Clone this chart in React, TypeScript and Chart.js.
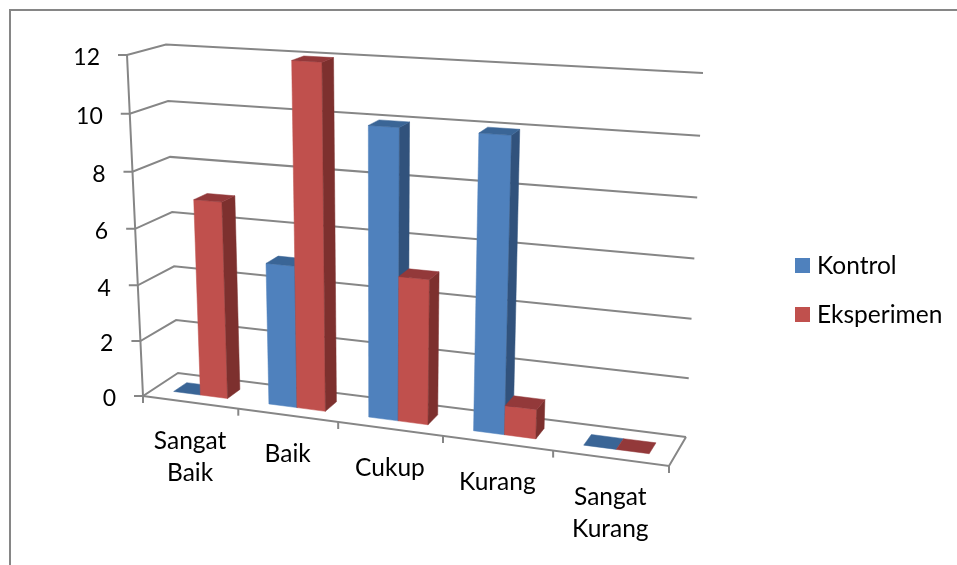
import React, { useEffect, useRef } from "react";
import { Chart, registerables } from "chart.js";

Chart.register(...registerables);

const categories = [["Sangat", "Baik"], ["Baik"], ["Cukup"], ["Kurang"], ["Sangat", "Kurang"]];
const kontrol = [0, 5, 10, 10, 0];
const eksperimen = [7, 12, 5, 1, 0];
const valueMax = 12;
const valueStep = 2;

const FONT = "Lato";
const AXIS = "#868686";
const faces = [
  { front: "#4F81BD", side: "#31527C", top: "#3A6596" },
  { front: "#C0504D", side: "#7D302E", top: "#93393A" },
];

// Corners of the 3-D box [x, y], indexed by u (across), v (height), w (depth)
const C: Record<string, [number, number]> = {
  "000": [143, 396],
  "100": [669, 466],
  "001": [178, 373],
  "101": [686, 437],
  "010": [127, 55],
  "110": [690, 88],
  "011": [166, 44.5],
  "111": [703, 73],
};
const DEPTH_NEAR = 0.31;
const DEPTH_FAR = 0.69;

function persp(t: number, r: number) {
  return t / (t + r * (1 - t));
}
function project(uIn: number, vIn: number, w: number): [number, number] {
  const u = persp(uIn, 1.13);
  const v = persp(vIn, 1.04);
  const out: [number, number] = [0, 0];
  for (const a of [0, 1]) for (const b of [0, 1]) for (const c of [0, 1]) {
    const k = (a ? u : 1 - u) * (b ? v : 1 - v) * (c ? w : 1 - w);
    const p = C[`${a}${b}${c}`];
    out[0] += k * p[0];
    out[1] += k * p[1];
  }
  return out;
}

function poly(ctx: CanvasRenderingContext2D, pts: [number, number][], fill: string) {
  ctx.beginPath();
  pts.forEach((p, i) => (i ? ctx.lineTo(p[0], p[1]) : ctx.moveTo(p[0], p[1])));
  ctx.closePath();
  ctx.fillStyle = fill;
  ctx.fill();
  ctx.strokeStyle = fill;
  ctx.lineWidth = 0.5;
  ctx.stroke();
}
function line(ctx: CanvasRenderingContext2D, pts: [number, number][]) {
  ctx.beginPath();
  pts.forEach((p, i) => (i ? ctx.lineTo(p[0], p[1]) : ctx.moveTo(p[0], p[1])));
  ctx.strokeStyle = AXIS;
  ctx.lineWidth = 2;
  ctx.stroke();
}

const perspectivePlugin = {
  id: "perspective3d",
  beforeDatasetsDraw(chart: any) {
    const { ctx, chartArea: ca, scales } = chart;
    const toU = (px: number) => (px - ca.left) / ca.width;
    const toV = (py: number) => (ca.bottom - py) / ca.height;
    ctx.save();

    // chart frame, open towards the right and bottom page edges
    ctx.strokeStyle = AXIS;
    ctx.lineWidth = 2;
    ctx.beginPath();
    ctx.moveTo(10, 570);
    ctx.lineTo(10, 10);
    ctx.lineTo(960, 10);
    ctx.stroke();

    // walls and value ticks
    ctx.font = `23px ${FONT}`;
    ctx.textAlign = "right";
    ctx.textBaseline = "middle";
    for (const t of scales.y.ticks) {
      const v = toV(scales.y.getPixelForValue(t.value));
      const a = project(0, v, 0);
      line(ctx, [[a[0] - 9, a[1]], a, project(0, v, 1), project(1, v, 1)]);
      ctx.fillStyle = "#000";
      ctx.fillText(String(t.value), a[0] - 27, a[1] + 3);
    }
    // front axes and floor
    const fl = project(0, 0, 0);
    line(ctx, [project(0, 1, 0), fl, [fl[0], fl[1] + 7]]);
    line(ctx, [fl, project(1, 0, 0), project(1, 0, 1)]);

    // category ticks and labels
    const n = categories.length;
    ctx.font = `24.5px ${FONT}`;
    ctx.textAlign = "center";
    for (let i = 0; i <= n; i++) {
      const p = project(i / n, 0, 0);
      line(ctx, [p, [p[0], p[1] + 7]]);
    }
    scales.x.ticks.forEach((_: any, i: number) => {
      const u = toU(scales.x.getPixelForTick(i));
      const p = project(u, 0, 0);
      const lab = scales.x.getLabelForValue(i) as any;
      const rows: string[] = Array.isArray(categories[i]) ? categories[i] : [lab];
      rows.forEach((r, k) => {
        ctx.fillStyle = "#000";
        ctx.fillText(r, p[0], p[1] + 39 + k * 32);
      });
    });

    // bars, through the elements laid out by the bar controller
    for (let j = 0; j < n; j++) {
      chart.data.datasets.forEach((_: any, di: number) => {
        const el = chart.getDatasetMeta(di).data[j] as any;
        const f = faces[di];
        const u0 = toU(el.x - el.width / 2);
        const u1 = toU(el.x + el.width / 2);
        const v = toV(el.y);
        const near = DEPTH_NEAR, far = DEPTH_FAR;
        if (v > 0) {
          poly(ctx, [project(u0, 0, near), project(u1, 0, near), project(u1, v, near), project(u0, v, near)], f.front);
          poly(ctx, [project(u1, 0, near), project(u1, 0, far), project(u1, v, far), project(u1, v, near)], f.side);
        }
        poly(ctx, [project(u0, v, near), project(u1, v, near), project(u1, v, far), project(u0, v, far)], f.top);
      });
    }

    // legend
    ctx.textAlign = "left";
    chart.data.datasets.forEach((d: any, di: number) => {
      const y = 265.5 + di * 49;
      ctx.fillStyle = d.backgroundColor;
      ctx.fillRect(795, y - 7.5, 15, 15);
      ctx.fillStyle = "#000";
      ctx.fillText(d.label, 817, y + 1);
    });

    ctx.restore();
    return false;
  },
};

export default function App() {
  const ref = useRef<HTMLCanvasElement>(null);
  useEffect(() => {
    if (!ref.current) return;
    const chart = new Chart(ref.current, {
      type: "bar",
      data: {
        labels: categories as any,
        datasets: [
          { label: "Kontrol", data: kontrol, backgroundColor: faces[0].front },
          { label: "Eksperimen", data: eksperimen, backgroundColor: faces[1].front },
        ],
      },
      options: {
        responsive: false,
        devicePixelRatio: 1,
        animation: false,
        datasets: { bar: { categoryPercentage: 2 / 3.5, barPercentage: 1 } },
        scales: {
          x: { display: false },
          y: { display: false, min: 0, max: valueMax, ticks: { stepSize: valueStep } },
        },
        plugins: { legend: { display: false }, tooltip: { enabled: false } },
      },
      plugins: [perspectivePlugin],
    });
    return () => chart.destroy();
  }, []);
  return (
    <div style={{ position: "absolute", left: 0, top: 0, width: 957, height: 565, background: "#fff" }}>
      <canvas ref={ref} width={957} height={565} style={{ display: "block" }} />
    </div>
  );
}
